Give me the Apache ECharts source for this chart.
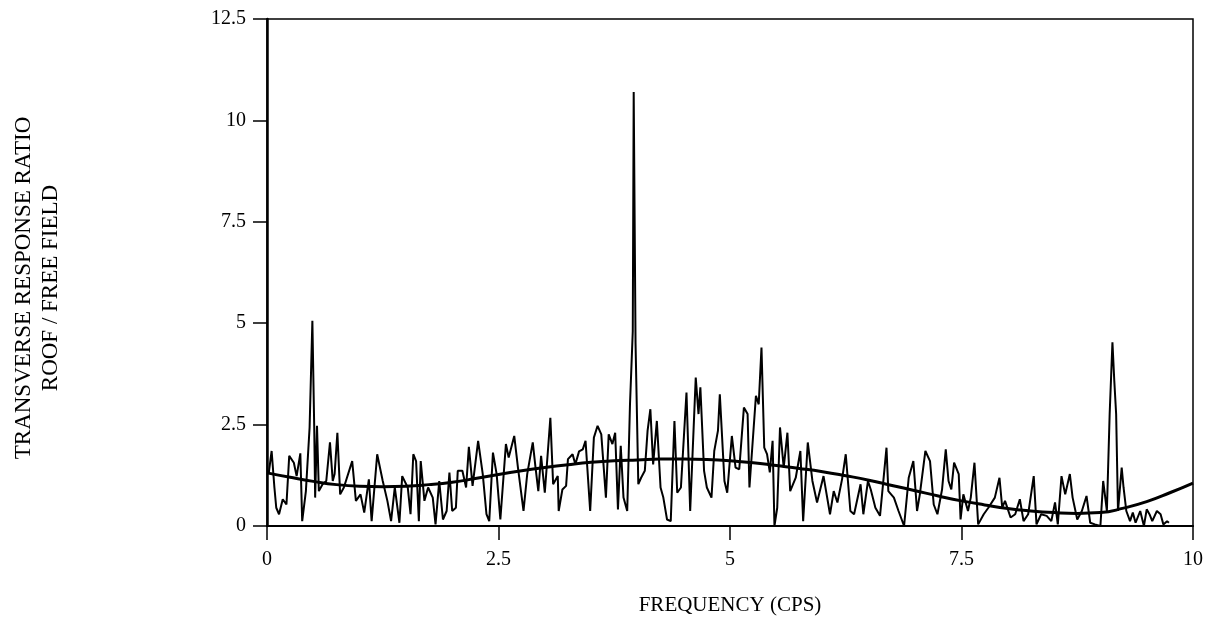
<!DOCTYPE html>
<html>
<head>
<meta charset="utf-8">
<script src="https://cdn.jsdelivr.net/npm/echarts@6/dist/echarts.min.js"></script>
<style>
html,body{margin:0;padding:0;background:#fff;}
#chart{width:1215px;height:623px;}
</style>
</head>
<body>
<div id="chart"></div>
<script>
// Noisy measured response: frequency (cps) and ratio
var freq = [0.02,0.05,0.08,0.10,0.13,0.17,0.21,0.24,0.29,0.32,0.36,0.38,0.42,0.46,0.49,0.51,0.52,0.54,0.56,0.60,
0.64,0.68,0.71,0.73,0.76,0.79,0.83,0.92,0.96,1.01,1.05,1.10,1.13,1.19,1.25,1.30,1.34,1.38,1.43,1.46,
1.52,1.55,1.58,1.61,1.64,1.66,1.70,1.74,1.79,1.82,1.86,1.90,1.94,1.97,2.00,2.04,2.06,2.11,2.15,2.18,
2.22,2.28,2.33,2.37,2.40,2.44,2.48,2.52,2.58,2.61,2.67,2.71,2.77,2.81,2.87,2.90,2.93,2.96,3.00,3.06,
3.09,3.14,3.15,3.19,3.23,3.25,3.30,3.33,3.37,3.41,3.44,3.49,3.53,3.57,3.61,3.66,3.69,3.73,3.76,3.79,
3.82,3.85,3.89,3.92,3.95,3.96,3.98,4.01,4.04,4.08,4.11,4.14,4.17,4.21,4.25,4.28,4.32,4.36,4.40,4.43,
4.47,4.53,4.57,4.63,4.66,4.68,4.72,4.75,4.80,4.83,4.87,4.89,4.94,4.97,5.02,5.06,5.10,5.15,5.19,5.21,
5.28,5.31,5.34,5.37,5.40,5.43,5.46,5.48,5.51,5.54,5.58,5.62,5.65,5.71,5.76,5.79,5.84,5.89,5.94,6.01,
6.08,6.12,6.16,6.21,6.25,6.30,6.34,6.41,6.44,6.49,6.52,6.57,6.62,6.69,6.71,6.77,6.82,6.88,6.93,6.98,
7.02,7.05,7.11,7.16,7.20,7.24,7.29,7.33,7.36,7.39,7.42,7.47,7.49,7.52,7.57,7.60,7.64,7.68,7.74,7.79,
7.86,7.91,7.94,7.97,8.03,8.08,8.13,8.17,8.22,8.28,8.31,8.36,8.42,8.47,8.51,8.54,8.58,8.62,8.67,8.70,
8.75,8.80,8.85,8.89,8.94,9.00,9.03,9.07,9.10,9.13,9.15,9.17,9.19,9.23,9.25,9.28,9.32,9.35,9.38,9.43,
9.47,9.50,9.53,9.56,9.61,9.65,9.68,9.72,9.74];
var ratio = [1.32,1.85,0.95,0.45,0.29,0.66,0.53,1.73,1.56,1.23,1.79,0.12,0.86,2.43,5.06,2.43,0.70,2.47,0.86,1.03,
1.11,2.06,1.11,1.28,2.30,0.78,0.95,1.60,0.62,0.78,0.33,1.15,0.12,1.77,1.11,0.62,0.12,0.95,0.08,1.23,
0.95,0.29,1.77,1.60,0.12,1.60,0.62,0.95,0.70,0.04,1.11,0.16,0.37,1.32,0.37,0.45,1.36,1.36,0.95,1.95,
0.99,2.10,1.28,0.29,0.12,1.81,1.28,0.16,2.02,1.69,2.22,1.44,0.37,1.28,2.06,1.44,0.86,1.73,0.82,2.67,
1.03,1.23,0.37,0.90,0.99,1.65,1.77,1.52,1.84,1.89,2.10,0.37,2.18,2.47,2.26,0.70,2.26,2.02,2.30,0.41,
1.98,0.70,0.37,3.00,4.80,10.70,4.50,1.03,1.19,1.36,2.35,2.88,1.52,2.59,0.95,0.70,0.16,0.12,2.59,0.82,
0.95,3.29,0.37,3.66,2.76,3.42,1.36,0.95,0.70,1.85,2.35,3.25,1.11,0.82,2.22,1.44,1.40,2.92,2.76,0.95,
3.21,3.00,4.40,1.93,1.77,1.32,2.10,0.00,0.45,2.43,1.44,2.30,0.86,1.19,1.85,0.12,2.06,1.11,0.58,1.23,
0.29,0.86,0.58,1.15,1.77,0.37,0.29,1.03,0.29,1.11,0.90,0.45,0.25,1.93,0.86,0.70,0.37,0.00,1.19,1.60,
0.37,0.78,1.85,1.60,0.53,0.29,0.90,1.89,1.11,0.90,1.56,1.28,0.16,0.78,0.37,0.70,1.56,0.04,0.29,0.45,
0.70,1.19,0.45,0.62,0.21,0.29,0.66,0.12,0.29,1.23,0.04,0.29,0.25,0.12,0.58,0.04,1.23,0.78,1.28,0.70,
0.16,0.37,0.74,0.08,0.04,0.00,1.11,0.37,2.76,4.53,3.58,2.76,0.37,1.44,0.95,0.37,0.12,0.33,0.08,0.37,
0.00,0.41,0.29,0.12,0.37,0.29,0.04,0.12,0.08];
// Smooth fitted curve
var fitFreq = [0,0.25,0.5,0.75,1,1.25,1.5,1.75,2,2.25,2.5,2.75,3,3.25,3.5,3.75,4,4.25,4.5,4.75,
5,5.25,5.5,5.75,6,6.25,6.5,6.75,7,7.25,7.5,7.75,8,8.25,8.5,8.75,9,9.25,9.5,9.75,10];
var fitRatio = [1.31,1.20,1.10,1.02,0.98,0.97,0.98,1.02,1.08,1.17,1.27,1.36,1.44,1.51,1.57,1.61,1.63,1.65,1.65,1.64,
1.61,1.56,1.49,1.42,1.34,1.24,1.13,1.00,0.87,0.74,0.62,0.52,0.43,0.37,0.33,0.31,0.33,0.44,0.60,0.82,1.06];
var xTicks = ['0','2.5','5','7.5','10'];
var yTicks = ['0','2.5','5','7.5','10','12.5'];

var noisy = freq.map(function(f,i){return [f, ratio[i]];});
var fit = fitFreq.map(function(f,i){return [f, fitRatio[i]];});

var FONT = '"Liberation Serif","Times New Roman",serif';
var chart = echarts.init(document.getElementById('chart'), null, {renderer:'canvas'});
chart.setOption({
  backgroundColor:'#fff',
  animation:false,
  grid:{left:267, right:22, top:19, bottom:97, show:true, borderColor:'#000', borderWidth:1.5, backgroundColor:'transparent'},
  xAxis:{
    type:'value', min:0, max:10, interval:2.5,
    name:'FREQUENCY (CPS)', nameLocation:'middle', nameGap:69,
    nameTextStyle:{fontFamily:FONT, fontSize:21, color:'#000'},
    axisLine:{onZero:false, lineStyle:{color:'#000', width:2}},
    axisTick:{show:true, inside:false, length:14, lineStyle:{color:'#000', width:1.5}},
    axisLabel:{margin:24, fontFamily:FONT, fontSize:20, color:'#000',
      formatter:function(v){var i=Math.round(v/2.5);return xTicks[i]!==undefined?xTicks[i]:'';}},
    splitLine:{show:false}
  },
  yAxis:{
    type:'value', min:0, max:12.5, interval:2.5,
    axisLine:{show:true, lineStyle:{color:'#000', width:2.5}},
    axisTick:{show:true, inside:false, length:14, lineStyle:{color:'#000', width:1.5}},
    axisLabel:{margin:21, fontFamily:FONT, fontSize:20, color:'#000',
      formatter:function(v){var i=Math.round(v/2.5);return yTicks[i]!==undefined?yTicks[i]:'';}},
    splitLine:{show:false}
  },
  graphic:[{
    type:'text', x:37, y:288, rotation:Math.PI/2,
    style:{text:'TRANSVERSE RESPONSE RATIO\nROOF / FREE FIELD', font:'23px "Liberation Serif", serif',
      fill:'#000', align:'center', verticalAlign:'middle', lineHeight:27}
  }],
  series:[
    {type:'line', data:noisy, showSymbol:false, symbol:'none', lineStyle:{color:'#000', width:2}, z:3},
    {type:'line', data:fit, smooth:true, showSymbol:false, symbol:'none', lineStyle:{color:'#000', width:3}, z:4}
  ]
});
</script>
</body>
</html>
